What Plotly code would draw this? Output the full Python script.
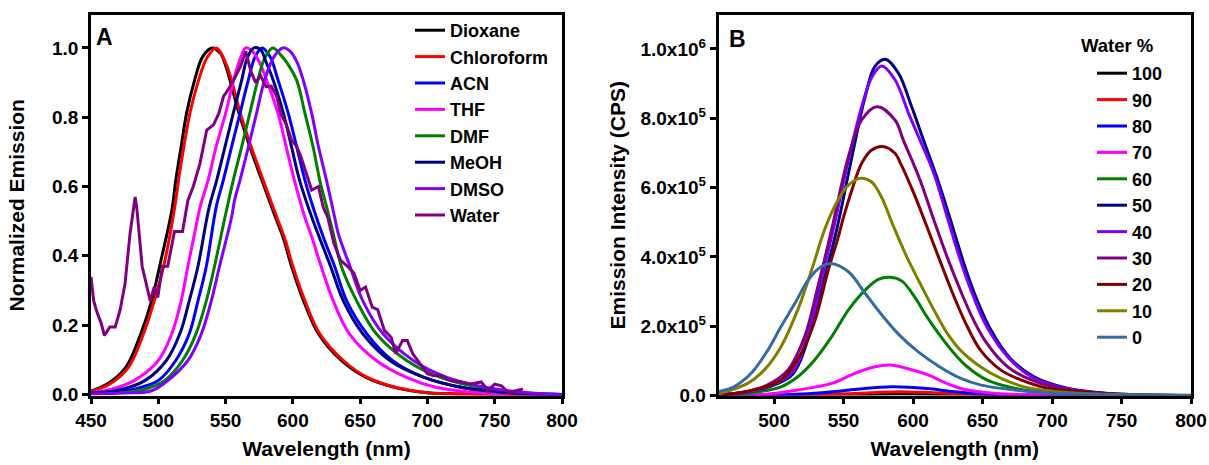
import plotly.graph_objects as go

# ---------------- Panel A data (normalized emission) ----------------
dioxane_x = [450, 462, 476, 487, 495, 501, 510, 513, 517, 521, 527, 533, 540, 546, 550, 560, 568, 577, 587, 593, 599, 608, 619, 636, 654, 676, 700, 730, 800]
dioxane_y = [0.01, 0.03, 0.079, 0.175, 0.27, 0.37, 0.53, 0.618, 0.715, 0.811, 0.907, 0.975, 1.0, 0.985, 0.95, 0.811, 0.715, 0.618, 0.512, 0.45, 0.37, 0.27, 0.175, 0.098, 0.05, 0.02, 0.005, 0.001, 0.0]

chloroform_x = [450, 464, 478, 489, 497, 504, 513, 515, 519, 523.5, 530, 536, 543, 550.8, 561, 569, 578, 588, 594, 600, 609, 620, 637.5, 655, 677, 700, 730, 795]
chloroform_y = [0.008, 0.03, 0.079, 0.175, 0.27, 0.37, 0.56, 0.618, 0.715, 0.811, 0.907, 0.97, 1.0, 0.95, 0.811, 0.715, 0.618, 0.512, 0.45, 0.37, 0.27, 0.175, 0.098, 0.05, 0.02, 0.005, 0.001, 0.0]

acn_x = [450, 470, 485, 500, 513, 523, 529.5, 535.7, 543, 548.3, 554.5, 560.7, 566.9, 572, 577, 583, 589, 596.6, 602.8, 609, 615, 623, 631, 640, 655, 674, 697, 726, 760, 800]
acn_y = [0.003, 0.008, 0.018, 0.04, 0.098, 0.175, 0.27, 0.37, 0.54, 0.618, 0.715, 0.811, 0.907, 0.975, 1.0, 0.975, 0.907, 0.811, 0.715, 0.618, 0.54, 0.45, 0.37, 0.27, 0.175, 0.098, 0.05, 0.02, 0.005, 0.0]

thf_x = [450, 465, 482, 500, 510, 517, 522, 527, 531, 537, 543, 550, 556, 561, 565, 570, 575, 580.5, 589, 595, 601, 609, 614, 621, 630, 642, 662, 684, 707, 730, 760, 800]
thf_y = [0.005, 0.015, 0.04, 0.098, 0.175, 0.27, 0.37, 0.465, 0.54, 0.618, 0.715, 0.811, 0.907, 0.97, 1.0, 0.99, 0.96, 0.907, 0.811, 0.715, 0.62, 0.51, 0.455, 0.37, 0.27, 0.175, 0.098, 0.05, 0.02, 0.008, 0.002, 0.0]

dmf_x = [450, 475, 490, 504.6, 518, 528, 535.7, 541.8, 549.6, 555.7, 562, 568, 574, 579, 585, 591, 596, 602.8, 609, 615, 620, 625.5, 630, 636, 647.4, 662, 684.5, 709, 739, 770, 800]
dmf_y = [0.002, 0.006, 0.015, 0.04, 0.098, 0.175, 0.27, 0.37, 0.512, 0.618, 0.715, 0.811, 0.907, 0.97, 1.0, 0.98, 0.955, 0.907, 0.811, 0.715, 0.618, 0.535, 0.465, 0.37, 0.27, 0.175, 0.098, 0.05, 0.02, 0.005, 0.0]

meoh_x = [450, 470, 490, 506, 516, 523, 529.5, 537.5, 543.4, 549.6, 555.7, 562, 566, 571, 576, 580, 585.4, 593, 599, 605, 614, 620, 628, 637.5, 652, 672, 697, 726, 760, 800]
meoh_y = [0.004, 0.012, 0.04, 0.098, 0.175, 0.27, 0.37, 0.535, 0.618, 0.715, 0.811, 0.907, 0.97, 1.0, 0.995, 0.96, 0.907, 0.811, 0.715, 0.618, 0.512, 0.45, 0.37, 0.27, 0.175, 0.098, 0.05, 0.02, 0.005, 0.0]

dmso_x = [450, 475, 494.6, 507, 522, 532, 539.4, 545.5, 554.5, 556.7, 560.7, 567, 573, 579, 586, 592.6, 598, 603, 607.7, 614, 619, 625, 631, 633.7, 642.4, 652, 667, 689.5, 714, 744, 775, 800]
dmso_y = [0.001, 0.004, 0.01, 0.04, 0.098, 0.175, 0.27, 0.37, 0.512, 0.561, 0.618, 0.715, 0.811, 0.907, 0.975, 1.0, 0.99, 0.96, 0.907, 0.811, 0.715, 0.618, 0.512, 0.465, 0.37, 0.27, 0.175, 0.098, 0.05, 0.02, 0.005, 0.0]

water_x = [450, 452, 454, 457.6, 460, 464, 468, 471.6, 475.3, 479, 482.8, 484, 488, 491.7, 494, 497, 499.6, 503, 507, 512, 518, 522, 526, 531, 536, 541, 545, 548.5, 552, 556, 561, 565, 569, 572.4, 576, 580, 584, 588, 591, 595, 599, 603, 606, 609, 614, 619, 622.6, 626, 628, 630.6, 635.5, 640.5, 645.4, 650, 654, 659, 663, 668, 673, 676.5, 681.5, 685, 689, 693, 696.5, 700, 704, 710, 717, 725, 732, 740, 745, 750, 755, 760, 765, 771]
water_y = [0.339, 0.27, 0.243, 0.205, 0.17, 0.195, 0.195, 0.243, 0.32, 0.464, 0.57, 0.54, 0.37, 0.31, 0.27, 0.31, 0.28, 0.37, 0.37, 0.47, 0.47, 0.56, 0.6, 0.667, 0.763, 0.778, 0.811, 0.86, 0.88, 0.907, 0.946, 0.99, 0.93, 0.9, 0.92, 0.888, 0.89, 0.86, 0.81, 0.78, 0.734, 0.715, 0.686, 0.65, 0.59, 0.6, 0.54, 0.51, 0.48, 0.435, 0.387, 0.37, 0.35, 0.3, 0.31, 0.252, 0.245, 0.185, 0.165, 0.118, 0.156, 0.156, 0.118, 0.098, 0.079, 0.06, 0.055, 0.055, 0.04, 0.036, 0.03, 0.036, 0.012, 0.03, 0.025, 0.006, 0.01, 0.016]

solvent_names = ["Dioxane", "Chloroform", "ACN", "THF", "DMF", "MeOH", "DMSO", "Water"]
solvent_colors = ["#000000", "#FF0000", "#0000FF", "#FF00FF", "#008000", "#000080", "#8000FF", "#800080"]

# ---------------- Panel B data (emission intensity, CPS) ----------------
w100_x = [460, 540, 570, 590, 615, 650, 800]
w100_y = [0, 1e3, 3e3, 4e3, 3e3, 1e3, 0]
w90_x = [460, 520, 545, 570, 590, 615, 640, 670, 800]
w90_y = [0, 1e3, 4e3, 8e3, 11e3, 8e3, 4e3, 1e3, 0]
w80_x = [460, 500, 520, 540, 560, 585, 610, 630, 660, 700, 800]
w80_y = [0, 1e3, 4e3, 10e3, 18e3, 25e3, 20e3, 11e3, 3e3, 1e3, 0]
w70_x = [460, 493, 517, 541.5, 558, 572.5, 583.5, 601, 613.5, 620, 636.5, 660, 700, 800]
w70_y = [0, 3e3, 16e3, 35e3, 64e3, 83e3, 88e3, 72e3, 55e3, 42e3, 18e3, 6e3, 1e3, 0]
w60_x = [460, 481, 505, 517, 529, 541.5, 553.5, 565.5, 575, 583.5, 592, 601, 610, 620, 629.5, 639, 653, 673, 697, 730, 800]
w60_y = [1e3, 6e3, 25e3, 54e3, 102e3, 170e3, 247e3, 304e3, 335e3, 341e3, 330e3, 285e3, 227e3, 170e3, 122e3, 83e3, 45e3, 21e3, 8e3, 2e3, 0]
w50_x = [460, 480, 497, 513, 525, 535, 545, 556, 565.5, 572.5, 580, 589.5, 599, 607.5, 617, 627, 636.5, 646, 656, 670, 687, 711, 740, 800]
w50_y = [2e3, 10e3, 26e3, 60e3, 170e3, 320e3, 478e3, 689e3, 862e3, 949e3, 970e3, 930e3, 833e3, 737e3, 631e3, 506e3, 382e3, 276e3, 189e3, 107e3, 54e3, 21e3, 6e3, 0]
w40_x = [460, 480, 497, 512.5, 524.5, 534, 542.5, 553.5, 563, 570.5, 577.5, 587, 596.7, 605, 615, 624.5, 634, 643.5, 653, 668, 685, 709, 740, 800]
w40_y = [2e3, 10e3, 28e3, 64e3, 180e3, 333e3, 478e3, 680e3, 833e3, 920e3, 951e3, 911e3, 815e3, 737e3, 641e3, 516e3, 391e3, 285e3, 199e3, 112e3, 54e3, 21e3, 5e3, 0]
w30_x = [460, 480, 495, 510, 522, 531.5, 541.5, 553.5, 563, 574, 587, 593, 605, 615, 624.5, 634, 643.5, 653, 668, 685, 706, 740, 800]
w30_y = [2e3, 10e3, 30e3, 74e3, 170e3, 314e3, 480e3, 689e3, 795e3, 833e3, 795e3, 737e3, 622e3, 506e3, 400e3, 304e3, 218e3, 151e3, 83e3, 45e3, 21e3, 4e3, 0]
w20_x = [460, 480, 505, 519.5, 529.5, 539, 546, 550, 556, 563, 570, 579, 587, 591, 600.5, 610, 620, 629.5, 639, 648.5, 663, 677.5, 697, 721, 760, 800]
w20_y = [1e3, 12e3, 45e3, 122e3, 218e3, 362e3, 455e3, 515e3, 593e3, 670e3, 708e3, 718e3, 699e3, 670e3, 584e3, 487e3, 382e3, 285e3, 199e3, 131e3, 74e3, 45e3, 21e3, 11e3, 2e3, 0]
w10_x = [460, 481, 493, 505, 517, 527, 536.5, 546, 553.5, 562, 570, 577, 586, 595.5, 605, 615, 624.5, 634, 648.5, 663, 680, 704, 740, 800]
w10_y = [5e3, 35e3, 74e3, 141e3, 247e3, 362e3, 480e3, 564e3, 607e3, 627e3, 617e3, 575e3, 487e3, 400e3, 324e3, 247e3, 180e3, 131e3, 83e3, 50e3, 25e3, 11e3, 3e3, 0]
w0_x = [460, 471, 483.5, 495.5, 505, 515, 524.5, 534, 541, 553.5, 565.5, 577, 590, 604, 619, 634, 649, 673, 697, 730, 800]
w0_y = [11e3, 25e3, 64e3, 131e3, 199e3, 266e3, 333e3, 372e3, 381e3, 357e3, 295e3, 235e3, 175e3, 125e3, 83e3, 50e3, 30e3, 16e3, 8e3, 4e3, 1e3]

water_names = ["100", "90", "80", "70", "60", "50", "40", "30", "20", "10", "0"]
water_colors = ["#000000", "#FF0000", "#0000FF", "#FF00FF", "#008000", "#000080", "#8000FF", "#800080", "#800000", "#808000", "#336BA6"]
water_legend_title = "Water %"

b_ticks = [0, 2e5, 4e5, 6e5, 8e5, 1e6]
b_ticktext = ["0.0", "2.0x10<sup>5</sup>", "4.0x10<sup>5</sup>", "6.0x10<sup>5</sup>", "8.0x10<sup>5</sup>", "1.0x10<sup>6</sup>"]

FONT = "Liberation Sans, Arial, sans-serif"
W, H = 1209, 465

fig = go.Figure()

a_series = [(dioxane_x, dioxane_y), (chloroform_x, chloroform_y), (acn_x, acn_y), (thf_x, thf_y),
            (dmf_x, dmf_y), (meoh_x, meoh_y), (dmso_x, dmso_y), (water_x, water_y)]
for (xs, ys), name, col in zip(a_series, solvent_names, solvent_colors):
    shape = "linear" if name == "Water" else "spline"
    fig.add_trace(go.Scatter(x=xs, y=ys, name=name, mode="lines",
                             line=dict(color=col, width=3, shape=shape),
                             xaxis="x", yaxis="y", legend="legend"))

b_series = [(w100_x, w100_y), (w90_x, w90_y), (w80_x, w80_y), (w70_x, w70_y), (w60_x, w60_y),
            (w50_x, w50_y), (w40_x, w40_y), (w30_x, w30_y), (w20_x, w20_y), (w10_x, w10_y), (w0_x, w0_y)]
for (xs, ys), name, col in zip(b_series, water_names, water_colors):
    fig.add_trace(go.Scatter(x=xs, y=ys, name=name, mode="lines",
                             line=dict(color=col, width=3, shape="spline"),
                             xaxis="x2", yaxis="y2", legend="legend2"))

def px_x(p):
    return p / W

def px_y(p):
    return 1 - p / H

axis_common = dict(showline=True, linecolor="black", linewidth=2.5, mirror=True,
                   ticks="outside", ticklen=6, tickwidth=2.5, tickcolor="black",
                   showgrid=False, zeroline=False, automargin=False,
                   tickfont=dict(family=FONT, size=19, color="black", weight="bold"))

ydom = [px_y(395.5), px_y(15)]
title_font = dict(family=FONT, size=21, weight="bold", color="black")
legend_font = dict(family=FONT, size=18, color="black", weight="bold")

fig.update_layout(
    width=W, height=H,
    margin=dict(l=0, r=0, t=0, b=0, autoexpand=False),
    paper_bgcolor="white", plot_bgcolor="white",
    font=dict(family=FONT, color="black", weight="bold"),
    xaxis=dict(domain=[px_x(91), px_x(562)], range=[450, 800], tickvals=[450, 500, 550, 600, 650, 700, 750, 800],
               title=dict(text="Wavelength (nm)", font=title_font, standoff=12),
               anchor="y", **axis_common),
    yaxis=dict(domain=ydom, range=[-0.003, 1.095], tickvals=[0, 0.2, 0.4, 0.6, 0.8, 1.0],
               ticktext=["0.0", "0.2", "0.4", "0.6", "0.8", "1.0"],
               title=dict(text="Normalized Emission", font=title_font, standoff=22),
               anchor="x", **axis_common),
    xaxis2=dict(domain=[px_x(718.5), px_x(1191)], range=[460, 800], tickvals=[500, 550, 600, 650, 700, 750, 800],
                title=dict(text="Wavelength (nm)", font=title_font, standoff=12),
                anchor="y2", **axis_common),
    yaxis2=dict(domain=ydom, range=[0, 1.098e6], tickvals=b_ticks, ticktext=b_ticktext,
                title=dict(text="Emission Intensity (CPS)", font=title_font, standoff=10),
                anchor="x2", **axis_common),
    legend=dict(x=px_x(410), y=px_y(12), xanchor="left", yanchor="top", bgcolor="rgba(0,0,0,0)",
                font=legend_font, tracegroupgap=0),
    legend2=dict(x=px_x(1092), y=px_y(55), xanchor="left", yanchor="top", bgcolor="rgba(0,0,0,0)",
                 font=legend_font, tracegroupgap=0),
    showlegend=True,
    annotations=[
        dict(text="A", x=px_x(104), y=px_y(37), xref="paper", yref="paper", showarrow=False,
             xanchor="center", yanchor="middle", font=dict(family=FONT, size=23, weight="bold", color="black")),
        dict(text="B", x=px_x(737), y=px_y(39), xref="paper", yref="paper", showarrow=False,
             xanchor="center", yanchor="middle", font=dict(family=FONT, size=23, weight="bold", color="black")),
        dict(text=water_legend_title, x=px_x(1079), y=px_y(45), xref="paper", yref="paper", showarrow=False,
             xanchor="left", yanchor="middle", font=dict(family=FONT, size=18.5, weight="bold", color="black")),
    ],
)

fig.write_html("out.html")
